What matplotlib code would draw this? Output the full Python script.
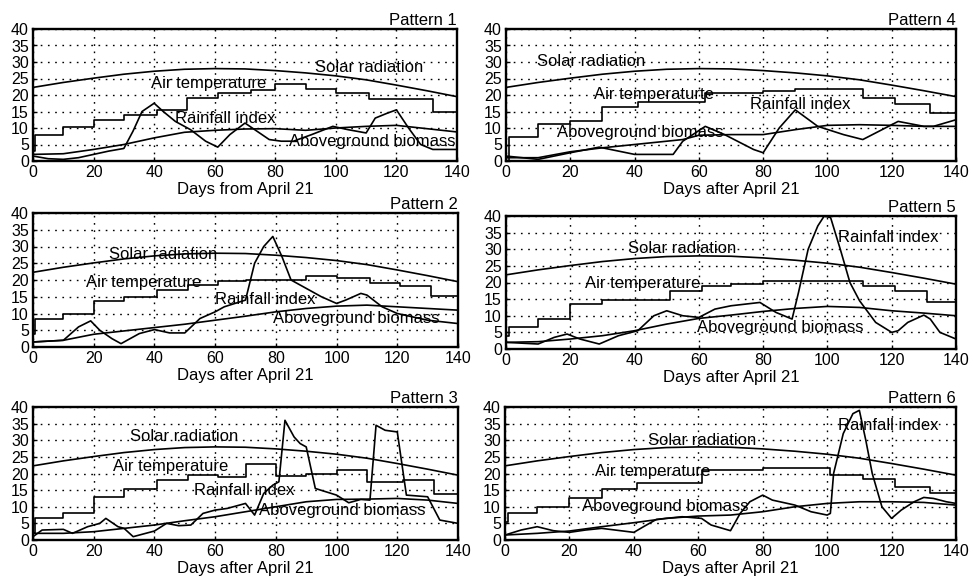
import matplotlib
matplotlib.use("Agg")
import matplotlib.pyplot as plt

plt.rcParams["font.family"] = ["Liberation Sans", "DejaVu Sans"]

# -----------------------------
# Shared solar radiation curve
# -----------------------------
solar_days = [0, 10, 20, 30, 40, 50, 60, 70, 80, 90, 100, 110, 120, 130, 140]
solar_vals = [22.3, 23.8, 25.1, 26.3, 27.2, 27.8, 28.0, 27.9, 27.4, 26.7, 25.8, 24.6, 23.0, 21.3, 19.5]

# -----------------------------
# Pattern 1
# -----------------------------
p1_temp_days = [0, 0.8, 10, 20, 30, 41, 51, 61, 72, 80, 90, 100, 111, 132, 140]
p1_temp_vals = [3, 8.0, 10.3, 12.3, 14.0, 15.4, 19.0, 20.7, 21.6, 23.3, 21.7, 20.5, 18.7, 15.0, 15.0]
p1_rain_days = [0, 5, 10, 15, 20, 25, 30, 33, 36, 40, 43, 47, 52, 57, 61, 65, 70, 74, 78, 82, 86, 92, 99, 104, 110, 113, 117, 120, 124, 128, 132, 140]
p1_rain_vals = [1.5, 0.7, 0.5, 1.0, 2.0, 3.0, 3.8, 9.0, 15.0, 17.5, 15.0, 12.0, 9.5, 6.0, 4.2, 8.0, 11.5, 9.0, 6.5, 6.0, 6.0, 8.0, 10.5, 9.5, 8.5, 13.0, 14.5, 15.5, 10.0, 5.0, 3.5, 3.5]
p1_bio_days = [0, 10, 20, 30, 40, 50, 60, 70, 80, 90, 100, 110, 120, 130, 140]
p1_bio_vals = [2.0, 2.2, 3.5, 5.0, 7.0, 8.7, 9.3, 9.7, 9.8, 9.3, 10.0, 10.5, 10.8, 9.8, 8.8]

# -----------------------------
# Pattern 2
# -----------------------------
p2_temp_days = [0, 0.8, 10, 20, 30, 41, 51, 61, 70, 90, 100, 111, 121, 131, 140]
p2_temp_vals = [4, 8.5, 10.0, 13.7, 15.0, 17.0, 18.5, 19.8, 20.0, 21.3, 20.5, 19.2, 18.2, 15.3, 15.3]
p2_rain_days = [0, 10, 15, 19, 22, 26, 29, 35, 40, 45, 50, 55, 60, 63, 70, 73, 76, 79, 82, 85, 90, 95, 100, 103, 108, 110, 115, 120, 130, 140]
p2_rain_vals = [1.5, 2.0, 6.0, 7.8, 5.0, 2.5, 1.0, 4.0, 5.2, 4.2, 4.2, 8.5, 10.5, 12.0, 14.0, 25.0, 30.0, 33.0, 27.0, 20.0, 17.5, 15.0, 13.0, 14.0, 16.0, 15.5, 12.0, 10.0, 8.0, 7.0]
p2_bio_days = [0, 10, 20, 30, 40, 50, 60, 70, 80, 90, 100, 110, 120, 130, 140]
p2_bio_vals = [1.5, 2.0, 3.8, 4.8, 5.8, 6.8, 8.0, 9.2, 10.5, 11.5, 12.2, 12.5, 12.0, 11.5, 11.0]

# -----------------------------
# Pattern 3
# -----------------------------
p3_temp_days = [0, 0.8, 10, 20, 30, 41, 51, 61, 70, 80, 90, 100, 110, 122, 132, 140]
p3_temp_vals = [2, 6.5, 8.0, 13.0, 15.3, 18.0, 19.5, 18.8, 22.8, 19.2, 20.0, 21.2, 17.5, 18.0, 13.7, 13.7]
p3_rain_days = [0, 3, 10, 13, 18, 22, 24, 28, 30, 33, 40, 44, 48, 52, 56, 60, 64, 70, 73, 76, 79, 81, 83, 86, 88, 90, 93, 100, 104, 108, 111, 113, 116, 120, 123, 130, 134, 140]
p3_rain_vals = [1.0, 3.0, 3.2, 2.0, 4.0, 5.0, 6.5, 4.0, 3.5, 1.0, 2.7, 5.0, 4.3, 4.5, 8.0, 9.0, 9.5, 11.0, 7.5, 14.0, 16.5, 17.5, 36.0, 31.0, 29.0, 28.0, 15.5, 13.5, 11.2, 12.2, 12.0, 34.5, 33.0, 32.5, 13.5, 13.0, 6.0, 5.0]
p3_bio_days = [0, 10, 20, 30, 40, 50, 60, 70, 80, 90, 100, 110, 120, 130, 140]
p3_bio_vals = [2.0, 2.0, 2.5, 3.5, 4.5, 5.8, 7.0, 8.5, 10.0, 11.5, 12.2, 12.3, 12.5, 12.0, 11.0]

# -----------------------------
# Pattern 4
# -----------------------------
p4_temp_days = [0, 1, 10, 20, 30, 41, 62, 80, 90, 111, 121, 132, 140]
p4_temp_vals = [0, 7.2, 11.2, 12.0, 16.3, 18.0, 20.7, 21.3, 21.7, 19.0, 17.2, 14.5, 14.5]
p4_rain_days = [0, 10, 20, 29, 40, 52, 55, 62, 68, 72, 77, 80, 85, 90, 97, 105, 111, 120, 122, 130, 133, 140]
p4_rain_vals = [1.5, 0.5, 2.5, 4.2, 2.0, 2.0, 6.0, 10.5, 8.0, 6.0, 3.5, 2.5, 10.0, 15.5, 10.5, 8.0, 6.5, 11.0, 12.0, 10.5, 10.5, 12.5]
p4_bio_days = [0, 10, 20, 30, 40, 55, 60, 70, 80, 90, 100, 110, 120, 130, 140]
p4_bio_vals = [1.0, 1.0, 2.8, 4.0, 5.0, 6.5, 7.8, 8.0, 8.0, 9.5, 10.8, 11.0, 10.8, 10.5, 10.5]

# -----------------------------
# Pattern 5
# -----------------------------
p5_temp_days = [0, 0.8, 10, 20, 30, 51, 61, 70, 80, 100, 111, 121, 131, 140]
p5_temp_vals = [4, 6.5, 9.0, 13.5, 14.8, 17.5, 18.8, 19.5, 20.6, 20.5, 19.0, 17.5, 14.0, 14.0]
p5_rain_days = [0, 10, 15, 19, 23, 29, 35, 41, 46, 50, 55, 60, 65, 70, 79, 84, 89, 91, 94, 97, 99, 101, 104, 107, 110, 115, 120, 122, 125, 130, 132, 135, 140]
p5_rain_vals = [2.0, 1.5, 3.5, 4.5, 3.0, 1.5, 4.0, 5.5, 10.0, 11.5, 10.0, 9.5, 12.0, 13.0, 14.0, 11.0, 9.0, 17.0, 30.0, 37.0, 40.0, 39.5, 30.0, 20.0, 14.5, 8.0, 5.0, 5.5, 8.0, 10.2, 9.0, 5.0, 3.0]
p5_bio_days = [0, 10, 20, 30, 40, 50, 60, 70, 80, 90, 100, 110, 120, 130, 140]
p5_bio_vals = [2.0, 2.2, 3.0, 4.0, 5.5, 7.5, 9.2, 10.2, 11.3, 12.2, 12.8, 12.5, 11.5, 10.8, 10.0]

# -----------------------------
# Pattern 6
# -----------------------------
p6_temp_days = [0, 0.8, 10, 20, 30, 41, 61, 80, 101, 111, 121, 132, 140]
p6_temp_vals = [5.5, 8.0, 10.0, 12.5, 15.2, 17.0, 21.0, 21.8, 19.5, 18.2, 16.0, 14.0, 14.0]
p6_rain_days = [0, 5, 10, 15, 20, 25, 30, 40, 43, 47, 55, 61, 64, 70, 73, 76, 80, 83, 90, 95, 100, 101, 102, 105, 108, 110, 112, 114, 117, 120, 123, 127, 130, 133, 137, 140]
p6_rain_vals = [1.5, 3.0, 4.0, 2.8, 2.3, 3.0, 3.5, 2.3, 4.0, 6.2, 7.0, 6.5, 4.5, 2.8, 8.0, 11.5, 13.5, 12.0, 10.5, 8.5, 7.5, 8.0, 20.0, 32.0, 38.0, 39.0, 30.0, 20.0, 10.0, 6.5, 9.0, 11.5, 12.8, 12.5, 11.5, 11.0]
p6_bio_days = [0, 10, 20, 30, 40, 50, 60, 70, 80, 90, 100, 110, 120, 130, 140]
p6_bio_vals = [1.5, 2.0, 2.7, 4.0, 5.2, 6.5, 7.2, 7.5, 8.5, 10.0, 11.0, 11.5, 11.5, 11.3, 10.5]

# label anchors (x, y) in data units: solar, air temp, rainfall, biomass
p1_label_pos = [(93, 28.3), (39, 23.6), (47, 13), (84.5, 5.8)]
p2_label_pos = [(25, 27.5), (17.5, 19.4), (60, 14.3), (79, 8.4)]
p3_label_pos = [(32, 31), (26.5, 22), (53, 15), (74.5, 9)]
p4_label_pos = [(9.5, 30), (27.5, 20), (76, 17), (16, 8.5)]
p5_label_pos = [(38, 30.3), (24.5, 19.8), (103.3, 33.6), (59.5, 6.6)]
p6_label_pos = [(44.5, 30), (28, 20.5), (103.3, 34.3), (24, 10)]

patterns = [
    ("Pattern 1", "Days from April 21", "Air temperature",
     p1_temp_days, p1_temp_vals, p1_rain_days, p1_rain_vals, p1_bio_days, p1_bio_vals, p1_label_pos),
    ("Pattern 2", "Days after April 21", "Air temperature",
     p2_temp_days, p2_temp_vals, p2_rain_days, p2_rain_vals, p2_bio_days, p2_bio_vals, p2_label_pos),
    ("Pattern 3", "Days after April 21", "Air temperature",
     p3_temp_days, p3_temp_vals, p3_rain_days, p3_rain_vals, p3_bio_days, p3_bio_vals, p3_label_pos),
    ("Pattern 4", "Days after April 21", "Air temperaturte",
     p4_temp_days, p4_temp_vals, p4_rain_days, p4_rain_vals, p4_bio_days, p4_bio_vals, p4_label_pos),
    ("Pattern 5", "Days after April 21", "Air temperature",
     p5_temp_days, p5_temp_vals, p5_rain_days, p5_rain_vals, p5_bio_days, p5_bio_vals, p5_label_pos),
    ("Pattern 6", "Days after April 21", "Air temperature",
     p6_temp_days, p6_temp_vals, p6_rain_days, p6_rain_vals, p6_bio_days, p6_bio_vals, p6_label_pos),
]

# axes rectangles in pixels (left col patterns 1-3, right col 4-6)
W, H = 973, 582
boxes = [
    (33, 29, 457, 161), (33, 213, 458, 347), (33, 407, 458, 540),
    (506, 29, 956, 161), (506, 216, 956, 349), (505, 407, 956, 540),
]

fig = plt.figure(figsize=(W / 100, H / 100), dpi=100)

for (title, xlabel, temp_name, td, tv, rd, rv, bd, bv, lp), (x0, y0, x1, y1) in zip(patterns, boxes):
    ax = fig.add_axes([x0 / W, 1 - y1 / H, (x1 - x0) / W, (y1 - y0) / H])
    lw = 1.2
    ax.plot(solar_days, solar_vals, color="black", lw=lw)
    ax.plot(td, tv, color="black", lw=lw, drawstyle="steps-post")
    ax.plot(rd, rv, color="black", lw=lw)
    ax.plot(bd, bv, color="black", lw=lw)

    names = ["Solar radiation", temp_name, "Rainfall index", "Aboveground biomass"]
    for name, (lx, ly) in zip(names, lp):
        ax.text(lx, ly, name, fontsize=12, ha="left", va="center")

    ax.set_xlim(0, 140)
    ax.set_ylim(0, 40)
    ax.set_xticks(range(0, 141, 20))
    ax.set_yticks(range(0, 41, 5))
    ax.grid(True, color="black", lw=1.0, linestyle=(0, (1.2, 4)))
    ax.tick_params(direction="in", length=3, width=1, labelsize=11.5, pad=3)
    for s in ax.spines.values():
        s.set_linewidth(1.7)
    ax.set_xlabel(xlabel, fontsize=12, labelpad=1)
    ax.text(1.0, 1.01, title, transform=ax.transAxes, ha="right", va="bottom", fontsize=12)

fig.savefig("out.png", dpi=100)
